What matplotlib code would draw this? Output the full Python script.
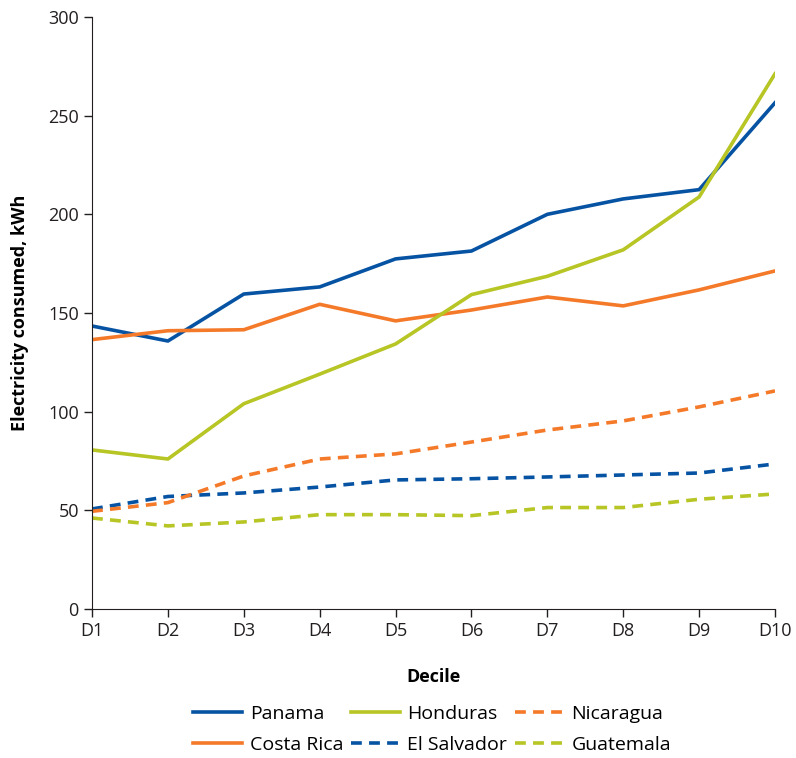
import matplotlib.pyplot as plt

plt.rcParams['font.family'] = ['Open Sans', 'DejaVu Sans']

deciles = ["D1", "D2", "D3", "D4", "D5", "D6", "D7", "D8", "D9", "D10"]

panama = [143.4, 135.8, 159.6, 163.2, 177.4, 181.4, 200.0, 207.8, 212.5, 256.5]
costa_rica = [136.5, 141.0, 141.5, 154.4, 146.0, 151.5, 158.1, 153.6, 161.7, 171.3]
honduras = [80.6, 76.0, 104.0, 119.0, 134.3, 159.3, 168.6, 182.0, 208.8, 271.2]
el_salvador = [50.7, 57.0, 58.8, 61.8, 65.4, 66.0, 66.9, 67.9, 68.9, 73.5]
nicaragua = [49.5, 53.9, 67.4, 76.0, 78.6, 84.6, 90.7, 95.3, 102.4, 110.5]
guatemala = [46.1, 42.1, 44.1, 47.8, 47.8, 47.3, 51.4, 51.4, 55.6, 58.3]

blue = "#0753a3"
green = "#b7c525"
orange = "#f47a2a"

fig = plt.figure(figsize=(7.96, 7.58), dpi=100)
ax = fig.add_axes([0.1156, 0.1966, 0.858, 0.781])

x = list(range(len(deciles)))
lw = 2.6
dash = (3, 2)

# column-wise fill for ncol=3 legend
ax.plot(x, panama, color=blue, lw=lw, label="Panama")
ax.plot(x, costa_rica, color=orange, lw=lw, label="Costa Rica")
ax.plot(x, honduras, color=green, lw=lw, label="Honduras")
ax.plot(x, el_salvador, color=blue, lw=lw, dashes=dash, label="El Salvador")
ax.plot(x, nicaragua, color=orange, lw=lw, dashes=dash, label="Nicaragua")
ax.plot(x, guatemala, color=green, lw=lw, dashes=dash, label="Guatemala")

ax.set_xlim(0, len(deciles) - 1)
ax.set_ylim(0, 300)
ax.set_xticks(x)
ax.set_xticklabels(deciles)
ax.set_yticks(range(0, 301, 50))
ax.tick_params(labelsize=13, color="#231f20", labelcolor="#231f20", length=6, width=1)
ax.spines["top"].set_visible(False)
ax.spines["right"].set_visible(False)
for s in ["left", "bottom"]:
    ax.spines[s].set_color("#231f20")

ax.set_xlabel("Decile", fontsize=13, fontweight="bold", labelpad=20)
ax.set_ylabel("Electricity consumed, kWh", fontsize=13, fontweight="bold", labelpad=14)

fig.legend(loc="center", bbox_to_anchor=(0.543, 0.0376), ncol=3, frameon=False,
           fontsize=14, handlelength=2.5, columnspacing=0.4, labelspacing=0.7,
           handletextpad=0.4)

plt.savefig("out.png", dpi=100)
